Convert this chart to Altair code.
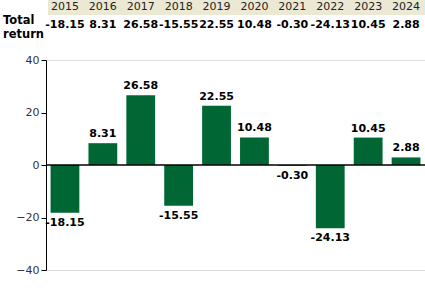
import altair as alt
import pandas as pd

years = ["2015", "2016", "2017", "2018", "2019", "2020", "2021", "2022", "2023", "2024"]
returns = [-18.15, 8.31, 26.58, -15.55, 22.55, 10.48, -0.30, -24.13, 10.45, 2.88]
y_ticks = [-40, -30, -20, -10, 0, 10, 20, 30, 40]
row_label = ["Total", "return"]

df = pd.DataFrame({"year": years, "ret": returns})
df["label"] = [f"{v:.2f}" for v in returns]
single = pd.DataFrame({"k": [0]})

FONT = "DejaVu Sans"
GREEN = "#006633"

xenc = alt.X("year:N", sort=years, axis=None,
             scale=alt.Scale(paddingInner=0.24, paddingOuter=0.12))
yscale = alt.Scale(domain=[-40, 40], nice=False)

base = alt.Chart(df)
one = alt.Chart(single)

bars = base.mark_bar(color=GREEN).encode(
    x=xenc,
    y=alt.Y("ret:Q", scale=yscale, title=None,
            axis=alt.Axis(values=y_ticks, grid=False, domainColor="black",
                          tickColor="black", tickSize=5, labelFont=FONT,
                          labelFontSize=11, labelColor="#333333", labelPadding=2,
                          labelExpr="datum.value % 20 == 0 ? datum.label : ''")),
)

zero = one.mark_rule(color="black", strokeWidth=1.5).encode(
    x=alt.value(0), x2=alt.value(379), y=alt.value(105)
)

pos_labels = base.transform_filter("datum.ret >= 0").mark_text(
    font=FONT, fontSize=11, fontWeight="bold", color="black", baseline="bottom", dy=-4
).encode(x=xenc, y=alt.Y("ret:Q", scale=yscale), text="label:N")

neg_labels = base.transform_filter("datum.ret < 0").mark_text(
    font=FONT, fontSize=11, fontWeight="bold", color="black", baseline="top", dy=4
).encode(x=xenc, y=alt.Y("ret:Q", scale=yscale), text="label:N")

header_bg = one.mark_rect(color="#ebe9d3").encode(
    x=alt.value(2), x2=alt.value(380), y=alt.value(-60), y2=alt.value(-45)
)

year_text = base.mark_text(font=FONT, fontSize=11, color="#222222", baseline="middle").encode(
    x=xenc, y=alt.value(-53), text="year:N"
)

value_text = base.mark_text(font=FONT, fontSize=11, fontWeight="bold", color="black",
                            baseline="middle").encode(
    x=xenc, y=alt.value(-35), text="label:N"
)

row_title = one.mark_text(font=FONT, fontSize=11.5, fontWeight="bold", color="black",
                          align="left", baseline="middle", text=row_label,
                          lineHeight=14).encode(
    x=alt.value(-43), y=alt.value(-39)
)

chart = alt.layer(header_bg, bars, zero, pos_labels, neg_labels, year_text, value_text,
                  row_title).properties(
    width=379, height=210,
    autosize=alt.AutoSizeParams(type="none"),
    padding={"left": 46, "top": 60, "right": 0, "bottom": 18},
).configure_view(stroke=None).configure(background="white")

chart.save("out.html", embed_options={"renderer": "svg", "actions": False})
